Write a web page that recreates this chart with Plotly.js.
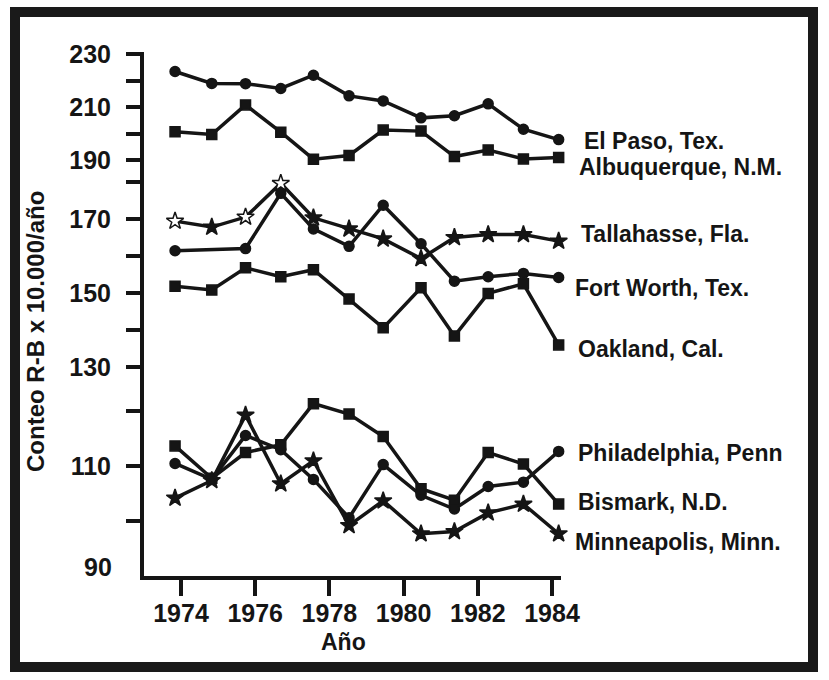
<!DOCTYPE html>
<html>
<head>
<meta charset="utf-8">
<script src="https://cdn.plot.ly/plotly-3.0.1.min.js"></script>
<style>html,body{margin:0;padding:0;background:#fff;}#chart{width:829px;height:680px;}</style>
</head>
<body>
<div id="chart"></div>
<script>
// ---- data ----
const anios = [1973.84, 1974.83, 1975.74, 1976.69, 1977.57, 1978.53, 1979.45, 1980.47, 1981.37, 1982.28, 1983.23, 1984.18];
const elPaso       = [223.4, 218.9, 218.8, 217.0, 222.0, 214.2, 212.3, 205.9, 206.7, 211.2, 201.6, 197.7];
const albuquerque  = [200.7, 199.6, 210.8, 200.5, 190.3, 191.7, 201.3, 200.9, 191.3, 193.8, 190.4, 190.9];
const tallahassee  = [169.4, 167.8, 170.5, 179.6, 170.3, 167.3, 164.6, 159.3, 165.0, 165.8, 165.8, 164.0];
const fortWorth    = [161.4, null, 162.0, 176.9, 167.3, 162.6, 173.7, 163.3, 153.2, 154.4, 155.3, 154.2];
const oakland      = [151.8, 150.8, 156.8, 154.4, 156.3, 148.4, 140.6, 151.4, 138.4, 149.9, 152.5, 136.0];
const philadelphia = [110.5, 107.6, 115.6, 113.0, 107.6, 100.6, 110.3, 104.7, 102.2, 106.3, 107.1, 112.7];
const bismark      = [113.7, 107.8, 112.5, 113.9, 121.4, 119.5, 115.4, 105.9, 103.8, 112.5, 110.4, 103.1];
const minneapolis  = [104.2, 107.4, 119.3, 106.8, 111.0, 99.2, 103.7, 97.7, 98.1, 101.5, 103.1, 97.7];

const ciudades = ["El Paso, Tex.", "Albuquerque, N.M.", "Tallahasse, Fla.", "Fort Worth, Tex.",
                  "Oakland, Cal.", "Philadelphia, Penn", "Bismark, N.D.", "Minneapolis, Minn."];
const xTicks = [1974, 1976, 1978, 1980, 1982, 1984];
const yTicksTop = [190, 200, 210, 220, 230];
const yTextTop  = ["190", "", "210", "", "230"];
const yTicksMid = [130, 140, 150, 160, 170, 180];
const yTextMid  = ["130", "", "150", "", "170", ""];
const yTicksLow = [100, 110, 120];
const yTextLow  = ["", "110", ""];
const xTitle = "Año";
const yTitle = "Conteo R-B x 10.000/año";

// ---- styling / layout ----
const INK = "#151515";
const L = 144, R = 561, T = 52, B = 576;
const px = p => (p - L) / (R - L);
const py = p => (B - p) / (B - T);
const FONT = "Liberation Sans, Arial, Helvetica, sans-serif";

const series = [
  {y: elPaso,       ax: "y",  sym: "circle", size: 10},
  {y: albuquerque,  ax: "y",  sym: "square", size: 10},
  {y: tallahassee,  ax: "y2", sym: "star",   size: 13,
     fill: ["white", INK, "white", "white", INK, INK, INK, INK, INK, INK, INK, INK]},
  {y: fortWorth,    ax: "y2", sym: "circle", size: 10},
  {y: oakland,      ax: "y2", sym: "square", size: 10},
  {y: philadelphia, ax: "y3", sym: "circle", size: 10},
  {y: bismark,      ax: "y3", sym: "square", size: 10},
  {y: minneapolis,  ax: "y3", sym: "star",   size: 13}
];

const traces = series.map((s, i) => ({
  type: "scatter", mode: "lines+markers", name: ciudades[i],
  x: anios, y: s.y, xaxis: "x", yaxis: s.ax, connectgaps: true, cliponaxis: false,
  line: {color: INK, width: 3.5},
  marker: {symbol: s.sym, size: s.size, color: s.fill || INK, line: {color: INK, width: 1.5}},
  hoverinfo: "skip"
}));

const labelPos = [[582,141],[577,167],[579,234],[573,288],[576,349],[576,453],[576,502],[573,542]];
const tickFont = {family: FONT, size: 25, color: INK, weight: "bold"};

const yBase = {
  showline: true, linecolor: INK, linewidth: 4, ticks: "outside", ticklen: 14, tickwidth: 4,
  tickcolor: INK, tickmode: "array", showgrid: false, zeroline: false, tickfont: tickFont,
  ticklabelstandoff: 10, anchor: "x", fixedrange: true
};

const annotations = ciudades.map((c, i) => ({
  text: c, xref: "paper", yref: "paper", x: px(labelPos[i][0]), y: py(labelPos[i][1]),
  xanchor: "left", yanchor: "middle", showarrow: false,
  font: {family: FONT, size: 23, color: INK, weight: "bold"}
}));
annotations.push({text: xTitle, xref: "paper", yref: "paper", x: px(343), y: py(642),
  xanchor: "center", yanchor: "middle", showarrow: false,
  font: {family: FONT, size: 23, color: INK, weight: "bold"}});
annotations.push({text: yTitle, xref: "paper", yref: "paper", x: px(35), y: py(332),
  xanchor: "center", yanchor: "middle", textangle: -90, showarrow: false,
  font: {family: FONT, size: 24, color: INK, weight: "bold"}});
annotations.push({text: "90", xref: "paper", yref: "paper", x: px(114), y: py(567),
  xanchor: "right", yanchor: "middle", showarrow: false, font: tickFont});

const layout = {
  width: 829, height: 680, paper_bgcolor: "white", plot_bgcolor: "white",
  margin: {l: L, r: 829 - R, t: T, b: 680 - B}, showlegend: false, hovermode: false,
  xaxis: {range: [1973.003, 1984.243], showline: true, linecolor: INK, linewidth: 4,
    ticks: "outside", ticklen: 16, tickwidth: 4, tickcolor: INK, tickmode: "array",
    tickvals: xTicks, ticktext: xTicks.map(String), showgrid: false, zeroline: false,
    tickfont: tickFont, ticklabelstandoff: -4, anchor: "y3", fixedrange: true},
  yaxis:  Object.assign({}, yBase, {domain: [py(172), 1], range: [185.47, 230.755],
    tickvals: yTicksTop, ticktext: yTextTop}),
  yaxis2: Object.assign({}, yBase, {domain: [py(382), py(172)], range: [125.99, 182.66],
    tickvals: yTicksMid, ticktext: yTextMid}),
  yaxis3: Object.assign({}, yBase, {domain: [0, py(382)], range: [90, 125.34],
    tickvals: yTicksLow, ticktext: yTextLow}),
  annotations: annotations,
  shapes: [{type: "rect", xref: "paper", yref: "paper", x0: px(15), x1: px(813),
    y0: py(12), y1: py(667), line: {color: "#1a1a1a", width: 10}, fillcolor: "rgba(0,0,0,0)", layer: "below"}]
};

Plotly.newPlot("chart", traces, layout, {staticPlot: true, displayModeBar: false});
</script>
</body>
</html>
